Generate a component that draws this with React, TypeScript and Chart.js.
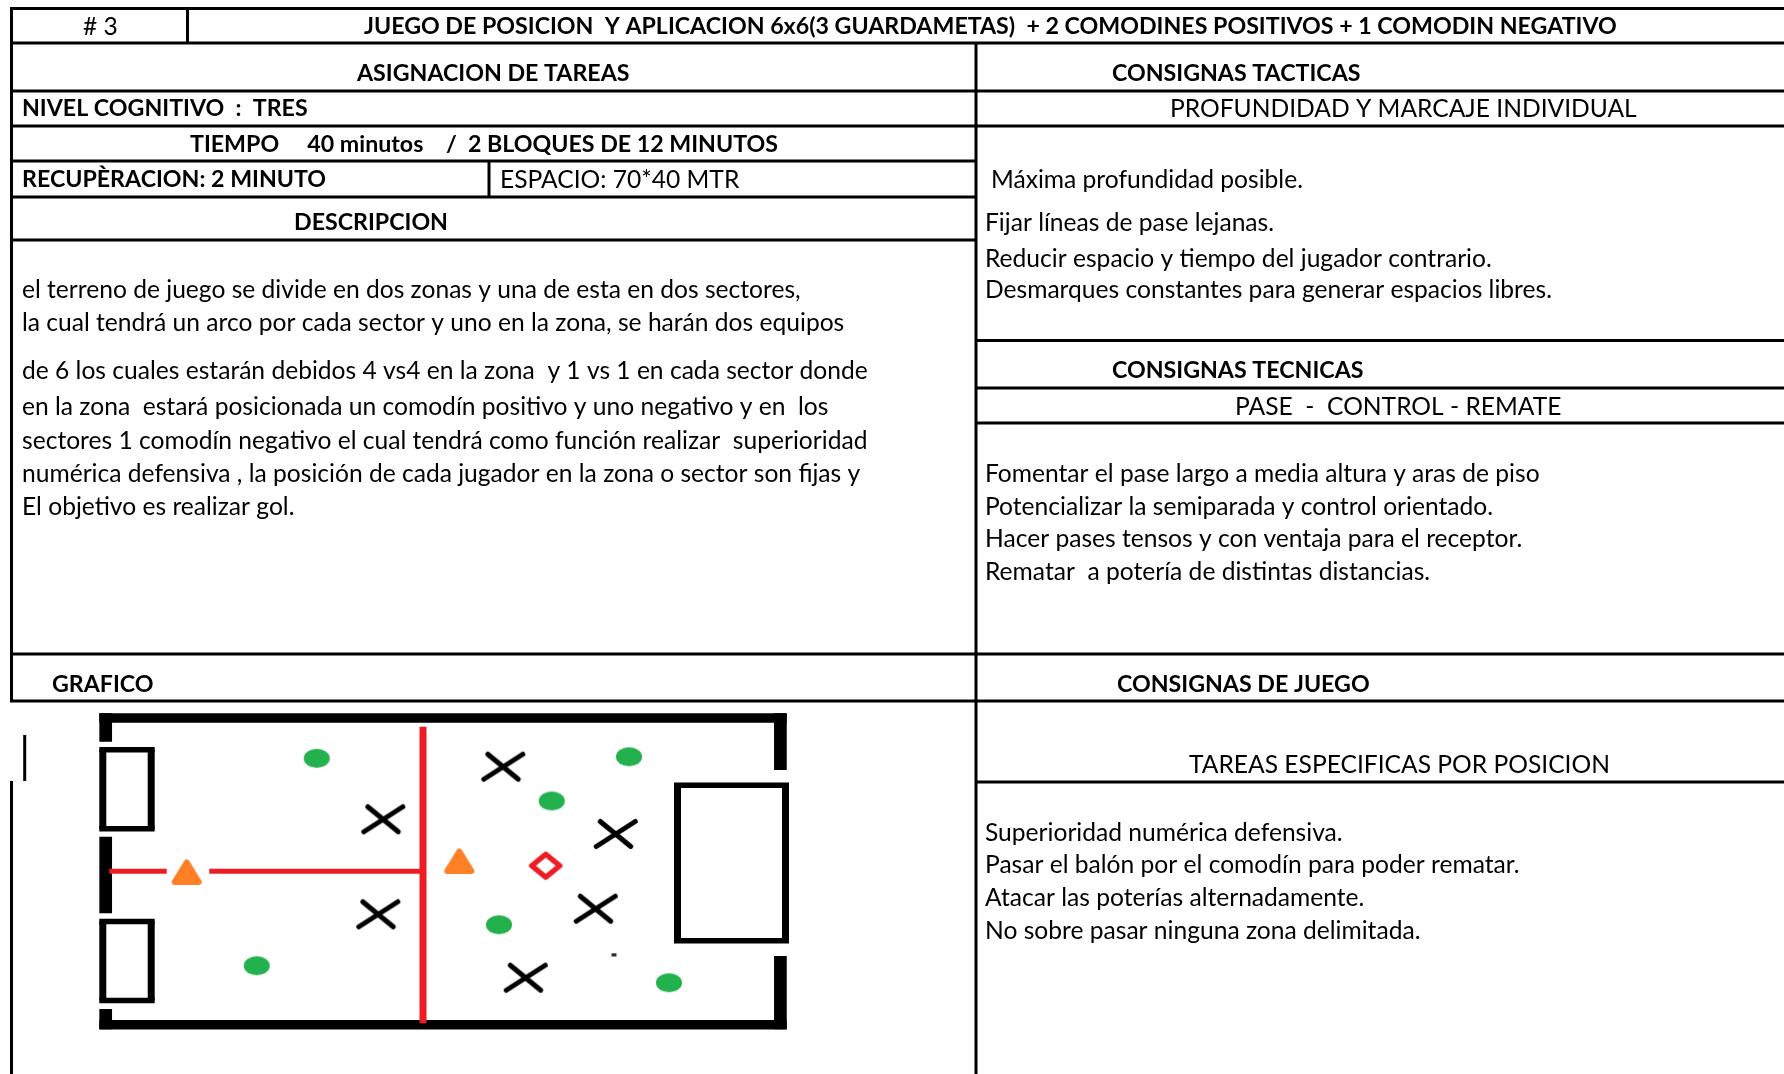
import React, { useEffect, useRef } from "react";
import { Chart, registerables } from "chart.js";

Chart.register(...registerables);

type Seg = number[];

const W = 1784;
const H = 1074;

// table rules: x1, y1, x2, y2
const tableRules: Seg[] = [
  [10, 8.5, 1784, 8.5],
  [10, 43, 1784, 43],
  [10, 91, 1784, 91],
  [10, 126, 1784, 126],
  [10, 161, 976, 161],
  [10, 197, 976, 197],
  [10, 240, 976, 240],
  [976, 340.5, 1784, 340.5],
  [976, 388, 1784, 388],
  [976, 423, 1784, 423],
  [10, 654, 1784, 654],
  [10, 701, 1784, 701],
  [976, 782, 1784, 782],
  [11.5, 8, 11.5, 702],
  [11.5, 781, 11.5, 1074],
  [187.5, 8, 187.5, 43],
  [489, 161, 489, 197],
  [976, 43, 976, 1074],
  [24.7, 735, 24.7, 781],
];

const wallsHorizontal: Seg[] = [
  [99.3, 718, 786.7, 718],
  [99.3, 1024.7, 786.7, 1024.7],
];
const wallsVertical: Seg[] = [
  [105.7, 713.3, 105.7, 741.7],
  [105.7, 836.7, 105.7, 913.3],
  [105.7, 1009, 105.7, 1029.3],
  [780.4, 713.3, 780.4, 770],
  [780.4, 956, 780.4, 1029.3],
];
// goals: x1, y1, x2, y2 (centre of the stroke)
const goals: Seg[] = [
  [102.8, 749.8, 151.2, 828.8],
  [102.8, 921.5, 151.2, 1000.5],
  [677.5, 785.3, 785.5, 940.8],
];
const redLines: Seg[] = [
  [423, 726.7, 423, 1023.3],
  [109.3, 871.3, 166.7, 871.3],
  [209.3, 871.3, 423, 871.3],
];

const comodinPositivo = [
  { x: 316.7, y: 758.3 },
  { x: 256.7, y: 965.7 },
  { x: 629, y: 756.7 },
  { x: 551.7, y: 801 },
  { x: 499, y: 924.7 },
  { x: 669, y: 982.7 },
];
const jugadoresX = [
  { x: 383.3, y: 819.3 },
  { x: 378.3, y: 914.3 },
  { x: 503.3, y: 766.7 },
  { x: 615.7, y: 834 },
  { x: 595.7, y: 908.7 },
  { x: 525.7, y: 977.7 },
];
const conos = [
  { x: 186.7, y: 872 },
  { x: 459.3, y: 861 },
];
const comodinNegativo = [{ x: 545.7, y: 865.7 }];
const puntoSuelto = [{ x: 614, y: 954.7 }];

// text, left edge, vertical centre
const boldTexts: [string, number, number][] = [
  ["JUEGO DE POSICION  Y APLICACION 6x6(3 GUARDAMETAS)  + 2 COMODINES POSITIVOS + 1 COMODIN NEGATIVO", 364, 27],
  ["ASIGNACION DE TAREAS", 357, 74],
  ["CONSIGNAS TACTICAS", 1112, 74],
  ["NIVEL COGNITIVO  :  TRES", 22, 109],
  ["TIEMPO     40 minutos    /  2 BLOQUES DE 12 MINUTOS", 190, 144.5],
  ["RECUPÈRACION: 2 MINUTO", 22, 180],
  ["DESCRIPCION", 294, 223],
  ["CONSIGNAS TECNICAS", 1112, 371],
  ["GRAFICO", 52, 685],
  ["CONSIGNAS DE JUEGO", 1117, 685],
];
const plainTexts: [string, number, number][] = [
  ["# 3", 83, 27],
  ["PROFUNDIDAD Y MARCAJE INDIVIDUAL", 1170, 109],
  ["ESPACIO: 70*40 MTR", 500, 180],
  ["Máxima profundidad posible.", 991, 180],
  ["Fijar líneas de pase lejanas.", 985, 223],
  ["Reducir espacio y tiempo del jugador contrario.", 985, 259],
  ["Desmarques constantes para generar espacios libres.", 985, 290],
  ["el terreno de juego se divide en dos zonas y una de esta en dos sectores,", 22, 290],
  ["la cual tendrá un arco por cada sector y uno en la zona, se harán dos equipos", 22, 323],
  ["de 6 los cuales estarán debidos 4 vs4 en la zona  y 1 vs 1 en cada sector donde", 22, 371],
  ["en la zona  estará posicionada un comodín positivo y uno negativo y en  los", 22, 407],
  ["sectores 1 comodín negativo el cual tendrá como función realizar  superioridad", 22, 441.5],
  ["numérica defensiva , la posición de cada jugador en la zona o sector son fijas y", 22, 474],
  ["El objetivo es realizar gol.", 22, 507],
  ["PASE  -  CONTROL - REMATE", 1235, 407],
  ["Fomentar el pase largo a media altura y aras de piso", 985, 474],
  ["Potencializar la semiparada y control orientado.", 985, 507],
  ["Hacer pases tensos y con ventaja para el receptor.", 985, 539],
  ["Rematar  a potería de distintas distancias.", 985, 572],
  ["TAREAS ESPECIFICAS POR POSICION", 1189, 765],
  ["Superioridad numérica defensiva.", 985, 833],
  ["Pasar el balón por el comodín para poder rematar.", 985, 865],
  ["Atacar las poterías alternadamente.", 985, 898],
  ["No sobre pasar ninguna zona delimitada.", 985, 931],
];

const FONT = "Lato";

function sprite(w: number, h: number, draw: (c: CanvasRenderingContext2D) => void) {
  const cv = document.createElement("canvas");
  cv.width = w;
  cv.height = h;
  const c = cv.getContext("2d")!;
  c.translate(w / 2, h / 2);
  draw(c);
  return cv;
}

function segDataset(s: Seg, color: string, width: number) {
  return {
    data: [
      { x: s[0], y: s[1] },
      { x: s[2], y: s[3] },
    ],
    showLine: true,
    borderColor: color,
    borderWidth: width,
    borderCapStyle: "butt",
    pointRadius: 0,
  };
}

function rectDatasets(s: Seg) {
  const [a, b, c, d] = s;
  return [
    segDataset([a - 3.5, b, c + 3.5, b], "#000", 5.4),
    segDataset([a - 3.5, d, c + 3.5, d], "#000", 5.4),
    segDataset([a, b, a, d], "#000", 7),
    segDataset([c, b, c, d], "#000", 7),
  ];
}

const textPlugin = {
  id: "sheetText",
  afterDraw(chart: any) {
    const { ctx, scales } = chart;
    ctx.save();
    ctx.fillStyle = "#000";
    ctx.textBaseline = "middle";
    ctx.textAlign = "left";
    ctx.font = `bold 23.2px ${FONT}`;
    boldTexts.forEach(([t, x, y]) => ctx.fillText(t, scales.x.getPixelForValue(x), scales.y.getPixelForValue(y)));
    ctx.font = `24.6px ${FONT}`;
    plainTexts.forEach(([t, x, y]) => ctx.fillText(t, scales.x.getPixelForValue(x), scales.y.getPixelForValue(y)));
    ctx.restore();
  },
};

export default function App() {
  const ref = useRef<HTMLCanvasElement>(null);
  useEffect(() => {
    const green = sprite(28, 21, (c) => {
      c.fillStyle = "#22b14c";
      c.beginPath();
      c.ellipse(0, 0, 13, 9.5, 0, 0, Math.PI * 2);
      c.fill();
    });
    const cross = sprite(48, 36, (c) => {
      c.strokeStyle = "#000";
      c.lineCap = "round";
      c.lineWidth = 5;
      c.beginPath();
      c.moveTo(-19.5, 12.5);
      c.lineTo(19.5, -12.5);
      c.moveTo(-15.5, -12.5);
      c.lineTo(15, 12.5);
      c.stroke();
    });
    const cone = sprite(34, 30, (c) => {
      c.fillStyle = "#ff7f27";
      c.strokeStyle = "#ff7f27";
      c.lineJoin = "round";
      c.lineWidth = 6;
      c.beginPath();
      c.moveTo(0, -9.5);
      c.lineTo(12, 10);
      c.lineTo(-12, 10);
      c.closePath();
      c.fill();
      c.stroke();
    });
    const diamond = sprite(38, 34, (c) => {
      c.strokeStyle = "#ed1c24";
      c.lineJoin = "round";
      c.lineWidth = 5.5;
      c.beginPath();
      c.moveTo(0, -11.5);
      c.lineTo(14, 0);
      c.lineTo(0, 11.5);
      c.lineTo(-14, 0);
      c.closePath();
      c.stroke();
    });
    const dot = sprite(6, 4, (c) => {
      c.fillStyle = "#222";
      c.fillRect(-2.5, -1.5, 5, 3);
    });
    const marker = (data: any[], style: any) => ({
      data,
      showLine: false,
      pointStyle: style,
      pointRadius: 10,
    });

    const datasets: any[] = [
      marker(jugadoresX, cross),
      marker(comodinPositivo, green),
      marker(conos, cone),
      marker(comodinNegativo, diamond),
      marker(puntoSuelto, dot),
      segDataset(redLines[0], "#ed1c24", 7),
      segDataset(redLines[1], "#ed1c24", 5),
      segDataset(redLines[2], "#ed1c24", 5),
      ...wallsHorizontal.map((s) => segDataset(s, "#000", 9.4)),
      ...wallsVertical.map((s) => segDataset(s, "#000", 12.7)),
      ...goals.flatMap(rectDatasets),
      ...tableRules.map((s) => segDataset(s, "#000", 3)),
    ];

    const chart = new Chart(ref.current!, {
      type: "scatter",
      data: { datasets },
      plugins: [textPlugin],
      options: {
        animation: false,
        responsive: false,
        layout: { padding: 0, autoPadding: false },
        plugins: { legend: { display: false }, tooltip: { enabled: false } },
        scales: {
          x: { type: "linear", min: 0, max: W, display: false },
          y: { type: "linear", min: 0, max: H, reverse: true, display: false },
        },
      } as any,
    });
    return () => chart.destroy();
  }, []);
  return (
    <canvas
      ref={ref}
      width={W}
      height={H}
      style={{ position: "absolute", left: 0, top: 0, width: W, height: H, background: "#fff" }}
    />
  );
}
